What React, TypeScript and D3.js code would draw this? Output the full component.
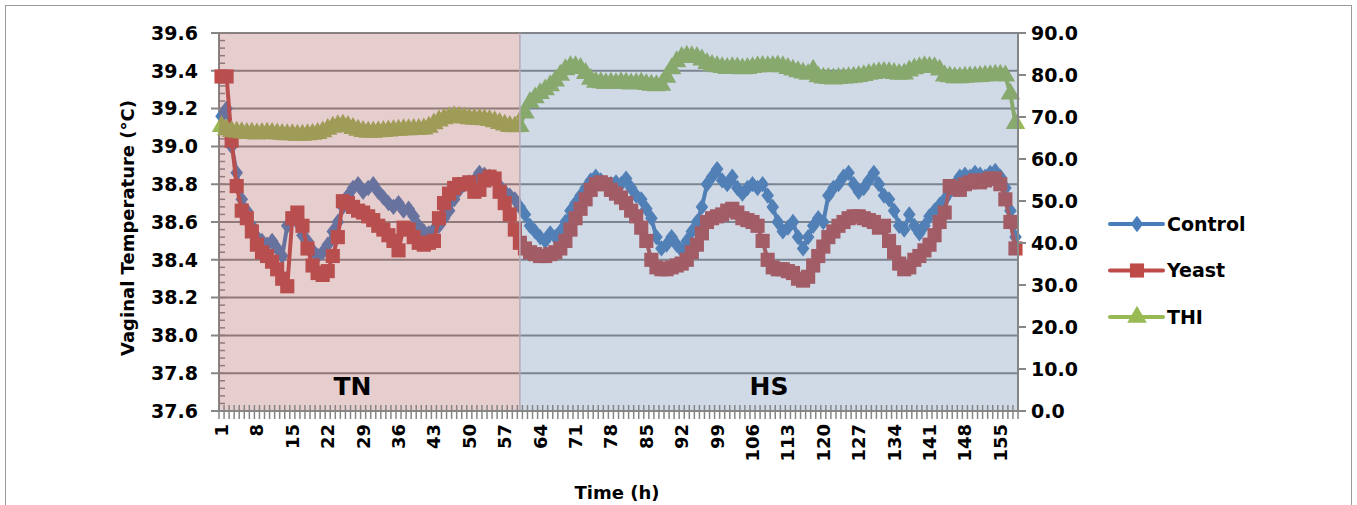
import React, { useRef, useEffect } from "react";
import * as d3 from "d3";

const controlTemp = [
  39.16, 39.2, 39.0, 38.86, 38.72, 38.66, 38.58, 38.52, 38.5, 38.48,
  38.5, 38.46, 38.42, 38.58, 38.62, 38.6, 38.53, 38.5, 38.45, 38.42,
  38.44, 38.48, 38.55, 38.6, 38.68, 38.74, 38.78, 38.8, 38.76, 38.78,
  38.8, 38.76, 38.73, 38.7, 38.68, 38.7, 38.66, 38.67, 38.63, 38.58,
  38.55, 38.54, 38.56, 38.58, 38.62, 38.66, 38.72, 38.77, 38.8, 38.81,
  38.82, 38.86, 38.85, 38.84, 38.82, 38.79, 38.76, 38.74, 38.72, 38.68,
  38.64, 38.58, 38.55, 38.52, 38.5, 38.54, 38.52, 38.55, 38.6, 38.66,
  38.7, 38.74, 38.78, 38.82, 38.84, 38.82, 38.8, 38.8, 38.81, 38.8,
  38.83, 38.78, 38.74, 38.72, 38.67, 38.62, 38.52, 38.46, 38.48, 38.52,
  38.48, 38.45, 38.5, 38.55, 38.6, 38.68, 38.8, 38.84, 38.88, 38.82,
  38.8, 38.84, 38.78, 38.75, 38.78, 38.8, 38.78, 38.8, 38.74, 38.68,
  38.6, 38.55, 38.57, 38.6, 38.52, 38.46, 38.52, 38.58, 38.62, 38.6,
  38.74, 38.78, 38.8, 38.84, 38.86, 38.8, 38.76, 38.78, 38.82, 38.86,
  38.8, 38.74, 38.72, 38.66, 38.58, 38.56, 38.64, 38.58, 38.54, 38.58,
  38.63, 38.66, 38.69, 38.72, 38.76, 38.8, 38.84, 38.85, 38.84, 38.86,
  38.85, 38.84, 38.86, 38.87, 38.84, 38.78, 38.66, 38.52,
];

const yeastTemp = [
  39.37, 39.37, 39.03, 38.79, 38.66, 38.62, 38.55, 38.48, 38.44, 38.42,
  38.39, 38.35, 38.3, 38.26, 38.62, 38.65, 38.58, 38.46, 38.37, 38.33,
  38.32, 38.34, 38.42, 38.52, 38.71, 38.7, 38.68, 38.66, 38.65, 38.63,
  38.61, 38.58, 38.56, 38.53, 38.5, 38.45, 38.57, 38.56, 38.52, 38.49,
  38.48, 38.49, 38.5, 38.62, 38.7, 38.75, 38.78, 38.8, 38.8, 38.81,
  38.76, 38.77, 38.82, 38.84, 38.83, 38.76, 38.7, 38.64, 38.56, 38.49,
  38.46, 38.44, 38.43, 38.42, 38.42, 38.43, 38.44, 38.46, 38.5, 38.56,
  38.62, 38.67, 38.72, 38.77, 38.8, 38.81, 38.8, 38.77, 38.75, 38.73,
  38.7, 38.66, 38.63, 38.57, 38.5, 38.4, 38.36, 38.35, 38.35, 38.36,
  38.37, 38.38, 38.4, 38.44, 38.48, 38.54, 38.6, 38.62, 38.63, 38.64,
  38.66, 38.67, 38.65, 38.62, 38.61, 38.6, 38.58, 38.5, 38.4, 38.36,
  38.35, 38.35, 38.34, 38.33, 38.3, 38.29, 38.31, 38.37, 38.42, 38.47,
  38.52, 38.55, 38.58, 38.6, 38.62, 38.63, 38.63, 38.62, 38.61, 38.6,
  38.57, 38.58, 38.5, 38.44, 38.38, 38.35, 38.36, 38.4, 38.42, 38.45,
  38.48, 38.53, 38.6, 38.65, 38.79, 38.78, 38.77, 38.8, 38.81, 38.82,
  38.81, 38.82, 38.83, 38.83, 38.8, 38.72, 38.6, 38.46,
];

const thi = [
  67.8, 67.0, 66.6, 66.4, 66.3, 66.1, 66.2, 66.0, 66.1, 66.2,
  66.1, 66.0, 65.9, 65.8, 65.8, 65.7, 65.7, 65.8, 65.9, 66.1,
  66.5, 67.1, 67.6, 68.0, 68.1, 67.8, 67.3, 66.9, 66.6, 66.4,
  66.4, 66.5, 66.6, 66.7, 66.8, 66.9, 67.0, 67.0, 67.1, 67.1,
  67.2, 67.6, 68.4, 69.1, 69.6, 69.9, 70.1, 70.0, 69.8, 69.6,
  69.5, 69.5, 69.4, 69.2, 68.9, 68.5, 68.1, 67.8, 67.7, 67.8,
  71.0, 73.5, 74.6, 75.6, 76.5, 77.5, 78.6, 80.0, 81.3, 82.0,
  82.0, 81.6, 80.4, 79.0, 78.3, 78.2, 78.0, 78.1, 78.0, 78.2,
  78.1, 77.9, 78.0, 78.1, 77.8, 77.6, 77.5, 77.6, 79.5, 81.5,
  83.2, 84.2, 84.5, 84.4, 84.2, 83.6, 82.8, 82.3, 82.0, 81.8,
  81.6, 81.8, 81.7, 81.5, 81.6, 81.8, 82.0, 82.1, 82.0, 82.1,
  82.2, 82.0, 81.6, 81.2, 80.8, 80.5, 80.2, 81.2, 79.6, 79.3,
  79.2, 79.1, 79.2, 79.3, 79.4, 79.5, 79.7, 79.9, 80.2, 80.4,
  80.6, 80.7, 80.6, 80.4, 80.2, 80.3, 81.0, 81.5, 81.8, 82.0,
  81.9, 81.8, 81.2, 79.8, 79.6, 79.4, 79.4, 79.5, 79.6, 79.6,
  79.7, 79.8, 79.9, 80.0, 80.0, 79.8, 75.5, 68.5,
];

const hours = controlTemp.map((_, i) => String(i + 1));
const xTickLabels = ["1", "8", "15", "22", "29", "36", "43", "50", "57", "64", "71", "78", "85", "92", "99", "106", "113", "120", "127", "134", "141", "148", "155"];
const leftTicks = [37.6, 37.8, 38.0, 38.2, 38.4, 38.6, 38.8, 39.0, 39.2, 39.4, 39.6];
const rightTicks = [0, 10, 20, 30, 40, 50, 60, 70, 80, 90];
const periods = [
  { label: "TN", from: "1", to: "60" },
  { label: "HS", from: "60", to: "158" },
];
const seriesNames = ["Control", "Yeast", "THI"];

const W = 1357;
const H = 505;
const FONT = "'DejaVu Sans', sans-serif";

const App: React.FC = () => {
  const ref = useRef<SVGSVGElement | null>(null);

  useEffect(() => {
    if (!ref.current) return;
    const svg = d3.select(ref.current);
    svg.selectAll("*").remove();

    const left = 219, right = 1018, top = 33, bottom = 411;

    const x = d3.scaleBand<string>().domain(hours).range([left, right]);
    const bw = x.bandwidth();
    const cx = (h: string) => (x(h) as number) + bw / 2;
    const yL = d3.scaleLinear().domain([37.6, 39.6]).range([bottom, top]);
    const yR = d3.scaleLinear().domain([0, 90]).range([bottom, top]);

    const colors = { Control: "#4A7EBB", Yeast: "#BE4B48", THI: "#98B954" };
    const axisColor = "#868686";

    // outer frame
    svg.append("rect")
      .attr("x", 5.5).attr("y", 5.5)
      .attr("width", W - 11).attr("height", H + 10)
      .attr("fill", "none").attr("stroke", "#9a9a9a").attr("stroke-width", 1);

    const plot = svg.append("g");

    // gridlines
    plot.selectAll("line.grid")
      .data(leftTicks.slice(1))
      .enter().append("line")
      .attr("x1", left - 8).attr("x2", right)
      .attr("y1", (d) => yL(d)).attr("y2", (d) => yL(d))
      .attr("stroke", axisColor).attr("stroke-width", 2);

    // left minor ticks (inside)
    const minor = d3.range(0, 51).map((i) => 37.6 + i * 0.04);
    plot.selectAll("line.minor")
      .data(minor)
      .enter().append("line")
      .attr("x1", left).attr("x2", left + 6)
      .attr("y1", (d) => yL(d)).attr("y2", (d) => yL(d))
      .attr("stroke", axisColor).attr("stroke-width", 1.5);

    plot.append("line")
      .attr("x1", left).attr("x2", left).attr("y1", top).attr("y2", bottom)
      .attr("stroke", axisColor).attr("stroke-width", 2);

    const symbolFor = {
      Control: d3.symbol().type(d3.symbolDiamond2).size(140),
      Yeast: d3.symbol().type(d3.symbolSquare).size(200),
      THI: d3.symbol().type(d3.symbolTriangle).size(165),
    };

    const drawSeries = (name: string, vals: number[], y: d3.ScaleLinear<number, number>) => {
      const line = d3.line<number>()
        .x((_, i) => cx(hours[i]))
        .y((d) => y(d));
      plot.append("path")
        .attr("d", line(vals) as string)
        .attr("fill", "none")
        .attr("stroke", colors[name])
        .attr("stroke-width", 4)
        .attr("stroke-linejoin", "round");
      const sym = symbolFor[name];
      plot.append("g").selectAll("path")
        .data(vals)
        .enter().append("path")
        .attr("d", sym() as string)
        .attr("transform", (d, i) =>
          `translate(${cx(hours[i])},${y(d)})${name === "Control" ? " scale(0.85,1.1)" : ""}`)
        .attr("fill", colors[name]);
    };

    drawSeries("Control", controlTemp, yL);
    drawSeries("Yeast", yeastTemp, yL);
    drawSeries("THI", thi, yR);

    // period overlays
    const periodFill = { TN: "rgb(172,88,92)", HS: "rgb(98,134,172)" };
    periods.forEach((p, i) => {
      const x0 = i === 0 ? left : cx(p.from);
      const x1 = i === periods.length - 1 ? right : cx(p.to);
      plot.append("rect")
        .attr("x", x0).attr("y", top)
        .attr("width", x1 - x0).attr("height", bottom - top)
        .attr("fill", periodFill[p.label]).attr("fill-opacity", 0.3);
      svg.append("text")
        .attr("x", (x0 + x1) / 2 - (i === 0 ? 17 : 0)).attr("y", 395)
        .attr("text-anchor", "middle")
        .attr("font-family", FONT).attr("font-weight", "bold")
        .attr("font-size", 25).attr("fill", "#000")
        .text(p.label);
    });
    // boundary line
    plot.append("line")
      .attr("x1", cx("60")).attr("x2", cx("60")).attr("y1", top).attr("y2", bottom)
      .attr("stroke", "#b8a8b4").attr("stroke-width", 1.5);

    // right axis
    svg.append("line")
      .attr("x1", right).attr("x2", right).attr("y1", top).attr("y2", bottom)
      .attr("stroke", axisColor).attr("stroke-width", 2);
    svg.selectAll("line.rt")
      .data(rightTicks)
      .enter().append("line")
      .attr("x1", right).attr("x2", right + 8)
      .attr("y1", (d) => yR(d)).attr("y2", (d) => yR(d))
      .attr("stroke", axisColor).attr("stroke-width", 2);
    svg.selectAll("text.rt")
      .data(rightTicks)
      .enter().append("text")
      .attr("x", 1031).attr("y", (d) => yR(d)).attr("dy", "0.36em")
      .attr("font-family", FONT).attr("font-weight", "bold").attr("font-size", 19)
      .text((d) => d3.format(".1f")(d));

    // left labels
    svg.selectAll("text.lt")
      .data(leftTicks)
      .enter().append("text")
      .attr("x", 198).attr("y", (d) => yL(d)).attr("dy", "0.36em")
      .attr("text-anchor", "end")
      .attr("font-family", FONT).attr("font-weight", "bold").attr("font-size", 19)
      .text((d) => d3.format(".1f")(d));

    // x axis
    svg.append("line")
      .attr("x1", left - 8).attr("x2", right + 8).attr("y1", bottom).attr("y2", bottom)
      .attr("stroke", axisColor).attr("stroke-width", 2);
    const edges = hours.map((h) => x(h) as number).concat([right]);
    svg.selectAll("line.xt")
      .data(edges)
      .enter().append("line")
      .attr("x1", (d) => d).attr("x2", (d) => d)
      .attr("y1", bottom - 6).attr("y2", bottom + 8)
      .attr("stroke", axisColor).attr("stroke-width", 1.5);
    svg.selectAll("text.xt")
      .data(xTickLabels)
      .enter().append("text")
      .attr("transform", (d) => `translate(${cx(d)},424) rotate(-90)`)
      .attr("dy", "0.36em")
      .attr("text-anchor", "end")
      .attr("font-family", FONT).attr("font-weight", "bold").attr("font-size", 18)
      .text((d) => d);

    // axis titles
    svg.append("text")
      .attr("transform", `translate(128,${(top + bottom) / 2 + 6}) rotate(-90)`)
      .attr("dy", "0.36em")
      .attr("text-anchor", "middle")
      .attr("font-family", FONT).attr("font-weight", "bold").attr("font-size", 18)
      .text("Vaginal Temperature (°C)");
    svg.append("text")
      .attr("x", 617).attr("y", 499)
      .attr("text-anchor", "middle")
      .attr("font-family", FONT).attr("font-weight", "bold").attr("font-size", 18)
      .text("Time (h)");

    // legend
    const lg = svg.append("g");
    seriesNames.forEach((name, i) => {
      const ly = 224 + i * 46.5;
      lg.append("line")
        .attr("x1", 1110).attr("x2", 1163).attr("y1", ly).attr("y2", ly)
        .attr("stroke", colors[name]).attr("stroke-width", 4).attr("stroke-linecap", "round");
      lg.append("path")
        .attr("d", symbolFor[name]() as string)
        .attr("transform", `translate(1137,${ly})${name === "Control" ? " scale(0.85,1.1)" : ""}`)
        .attr("fill", colors[name]);
      lg.append("text")
        .attr("x", 1167).attr("y", ly).attr("dy", "0.36em")
        .attr("font-family", FONT).attr("font-weight", "bold").attr("font-size", 19)
        .text(name);
    });
  }, []);

  return (
    <div style={{ position: "absolute", left: 0, top: 0 }}>
      <svg ref={ref} width={W} height={H} style={{ display: "block", background: "#fff" }} />
    </div>
  );
};

export default App;
